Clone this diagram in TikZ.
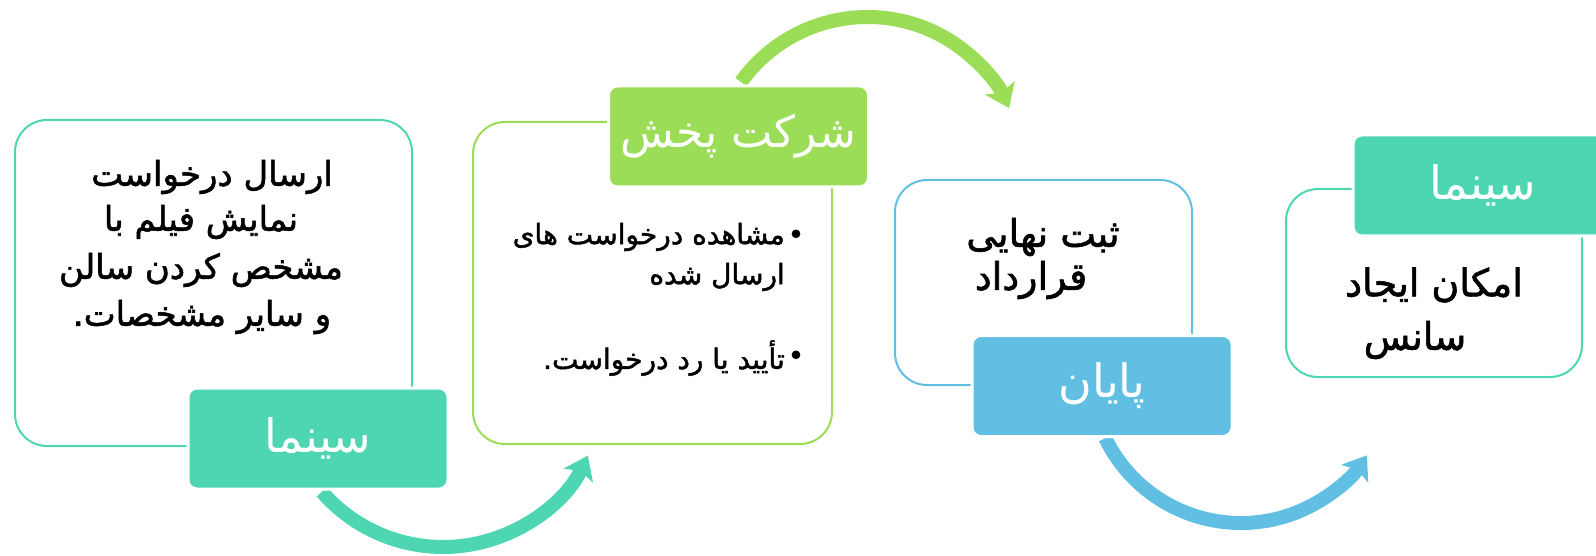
\documentclass[tikz,border=0pt]{standalone}
\usepackage{fontspec}
\usetikzlibrary{arrows.meta}
\TeXXeTstate=1
\newfontfamily\fa[Script=Arabic]{DejaVu Sans}
\newfontfamily\fabody[Script=Arabic,FakeBold=1.6]{DejaVu Sans}
\definecolor{cteal}{RGB}{78,214,178}
\definecolor{cgreen}{RGB}{155,221,87}
\definecolor{cblue}{RGB}{97,191,227}
\tikzset{
  card/.style={draw, line width=2pt, rounded corners=32pt, fill=white, inner sep=0pt},
  tag/.style={draw=white, line width=3pt, rounded corners=9pt, text=white, inner sep=0pt,
    minimum width=260pt, minimum height=101pt, font=\fa\fontsize{46}{50}\selectfont},
  txt/.style={text=black, inner sep=0pt, font=\fabody\fontsize{34}{40}\selectfont},
  bigtxt/.style={text=black, inner sep=0pt, font=\fabody\fontsize{38}{44}\selectfont},
  small/.style={text=black, inner sep=0pt, font=\fabody\fontsize{28}{32}\selectfont},
  flow/.style={line width=14pt, -{Stealth[length=22pt,width=32pt,inset=5pt]}},
}
\begin{document}
\begin{tikzpicture}[x=1pt,y=1pt]
\useasboundingbox (0,0) rectangle (1596,-556);
% arc centres
\coordinate (o1) at (443,-386.5);
\coordinate (o2) at (867.5,-172.6);
\coordinate (o3) at (1241,-372);
% arrows
\draw[flow, color=cteal] ([shift={(221:160.5pt)}]o1) arc[start angle=221, end angle=334.5, radius=160.5pt];
\draw[flow, color=cgreen] ([shift={(144.4:155.6pt)}]o2) arc[start angle=144.4, end angle=24.5, radius=155.6pt];
\draw[flow, color=cblue] ([shift={(206:151pt)}]o3) arc[start angle=206, end angle=326.5, radius=151pt];
% cards
\node[card, draw=cteal, minimum width=397pt, minimum height=326pt] (c1) at (213.5,-283) {};
\node[card, draw=cgreen, minimum width=359pt, minimum height=322pt] (c2) at (652.5,-283) {};
\node[card, draw=cblue, minimum width=297pt, minimum height=205pt] (c3) at (1043.5,-282.5) {};
\node[card, draw=cteal, minimum width=296pt, minimum height=188pt] (c4) at (1434,-283) {};
% tags
\node[tag, fill=cteal] (g1) at (318,-438.5) {\beginR سینما\endR};
\node[tag, fill=cgreen, font=\fa\fontsize{44}{50}\selectfont] (g2) at (738.5,-136.5) {\beginR شرکت پخش\endR};
\node[tag, fill=cblue] (g3) at (1102,-386) {\beginR پایان\endR};
\node[tag, fill=cteal] (g4) at (1483,-185.5) {\beginR سینما\endR};
% texts card 1
\node[txt] (t1a) at (212,-177) {\beginR ارسال درخواست\endR};
\node[txt] (t1b) at (201,-222) {\beginR نمایش فیلم با\endR};
\node[txt] (t1c) at (201,-270) {\beginR مشخص کردن سالن\endR};
\node[txt] (t1d) at (202,-317) {\beginR و سایر مشخصات.\endR};
% texts card 2
\node[small] (b1) at (796,-237) {•};
\node[small, anchor=east] (t2a) at (785,-237) {\beginR مشاهده درخواست های\endR};
\node[small, anchor=east] (t2b) at (785,-277) {\beginR ارسال شده\endR};
\node[small] (b2) at (796,-358) {•};
\node[small, anchor=east] (t2c) at (785,-358) {\beginR تأیید یا رد درخواست.\endR};
% texts card 3
\node[bigtxt] (t3a) at (1043,-237) {\beginR ثبت نهایی\endR};
\node[bigtxt] (t3b) at (1031,-280) {\beginR قرارداد\endR};
% texts card 4
\node[bigtxt] (t4a) at (1434,-285) {\beginR امکان ایجاد\endR};
\node[bigtxt] (t4b) at (1415,-340) {\beginR سانس\endR};
\end{tikzpicture}
\end{document}
